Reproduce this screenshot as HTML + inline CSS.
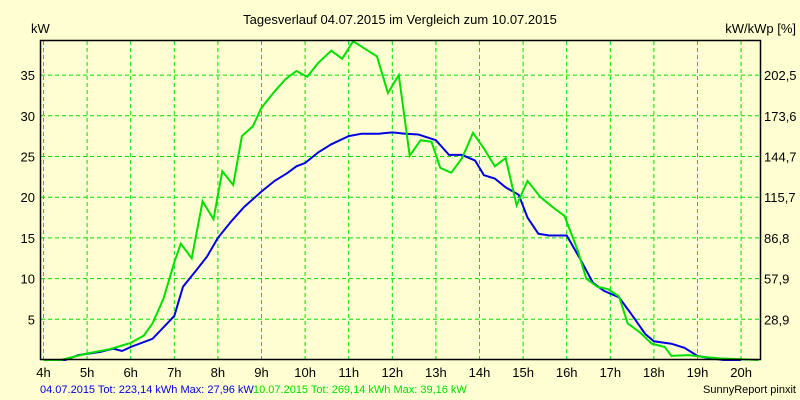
<!DOCTYPE html>
<html><head><meta charset="utf-8"><style>
body{margin:0;background:#ffffd2;}
svg{display:block;font-family:"Liberation Sans",sans-serif;}
</style></head><body>
<svg id="chart" width="800" height="400" viewBox="0 0 800 400">
<rect x="0" y="0" width="800" height="400" fill="#ffffd2"/>
<text x="400" y="24" font-size="13" text-anchor="middle" fill="#000">Tagesverlauf 04.07.2015 im Vergleich zum 10.07.2015</text>
<text x="31" y="33" font-size="13" fill="#000">kW</text>
<text x="796" y="33" font-size="13" text-anchor="end" fill="#000">kW/kWp [%]</text>
<g id="grid"></g>
<g id="ticks"></g>
<g id="series"></g>
<rect x="40.5" y="40.5" width="720" height="319" fill="none" stroke="#000" stroke-width="1.5"/>
<text x="40" y="393" font-size="11" fill="#0000e0">04.07.2015 Tot: 223,14 kWh Max: 27,96 kW</text>
<text x="253" y="393" font-size="11" fill="#00e000">10.07.2015 Tot: 269,14 kWh Max: 39,16 kW</text>
<text x="796" y="393" font-size="11" text-anchor="end" fill="#000">SunnyReport pinxit</text>
</svg>
<script>
const hourTicks=[4,5,6,7,8,9,10,11,12,13,14,15,16,17,18,19,20];
const kwTicks=[5,10,15,20,25,30,35];
const pctLabels=["28,9","57,9","86,8","115,7","144,7","173,6","202,5"];
const blueT=[4,4.5,4.8,5.3,5.6,5.8,6,6.5,6.75,7,7.2,7.5,7.75,8,8.3,8.6,9,9.3,9.6,9.8,10,10.3,10.6,11,11.3,11.7,12,12.3,12.6,13,13.3,13.6,13.9,14.1,14.35,14.6,14.9,15.1,15.35,15.6,16,16.3,16.6,16.85,17.2,17.5,17.8,18,18.4,18.7,19,19.3,19.6,20];
const blueV=[0,0,0.6,1.0,1.4,1.1,1.6,2.6,4,5.4,9,11,12.7,15,17,18.8,20.7,22,23,23.8,24.2,25.5,26.5,27.5,27.8,27.8,27.96,27.8,27.7,27,25.2,25.2,24.5,22.7,22.3,21.2,20.3,17.5,15.5,15.3,15.3,12.5,9.5,8.5,7.7,5.5,3.2,2.3,2,1.5,0.5,0.2,0,0];
const greenT=[4,4.4,5,5.5,6,6.3,6.5,6.75,7,7.15,7.4,7.65,7.9,8.1,8.35,8.55,8.8,9,9.3,9.55,9.8,10.05,10.3,10.6,10.85,11.1,11.35,11.65,11.9,12.15,12.4,12.65,12.9,13.1,13.35,13.6,13.85,14.1,14.35,14.6,14.85,15.1,15.4,15.7,15.95,16.25,16.45,16.7,16.95,17.2,17.4,17.7,17.95,18.25,18.4,18.8,19.1,19.5,20.4];
const greenV=[0,0,0.8,1.3,2.1,3,4.5,7.5,12,14.3,12.5,19.5,17.3,23.2,21.5,27.5,28.7,31,33,34.5,35.5,34.8,36.5,38,37,39.16,38.3,37.3,32.8,35,25.1,27,26.8,23.6,23,24.8,27.9,26,23.8,24.8,19,22,20,18.7,17.7,13.5,10,9,8.7,7.8,4.5,3.3,2,1.6,0.5,0.6,0.4,0.2,0];
const NS="http://www.w3.org/2000/svg";
function xs(h){return 43.5+(h-4)*43.6;}
function ys(v){return 360-v*8.14;}
function mk(tag,attrs,parent){const e=document.createElementNS(NS,tag);for(const k in attrs)e.setAttribute(k,attrs[k]);parent.appendChild(e);return e;}
const grid=document.getElementById('grid'),ticks=document.getElementById('ticks'),series=document.getElementById('series');
hourTicks.forEach(h=>{
  const l=mk('line',{x1:xs(h),x2:xs(h),y1:41,y2:359,stroke:'#00e000','stroke-dasharray':'4,3'},grid);
  
  
  const t=mk('text',{x:xs(h),y:377,'font-size':13,'text-anchor':'middle',fill:'#000'},ticks);
  t.textContent=h+'h';
  
  
});
kwTicks.forEach((v,i)=>{
  const l=mk('line',{x1:41,x2:760,y1:ys(v),y2:ys(v),stroke:'#00e000','stroke-dasharray':'4,3'},grid);
  
  
  const t=mk('text',{x:35,y:ys(v)+5,'font-size':13,'text-anchor':'end',fill:'#000'},ticks);
  t.textContent=v;
  
  
  const r=mk('text',{x:764,y:ys(v)+5,'font-size':13,fill:'#000'},ticks);
  r.textContent=pctLabels[i];
  
  
});
function line(T,V,color){return T.map((t,i)=>xs(t).toFixed(1)+','+ys(V[i]).toFixed(1)).join(' ');}
const b=mk('polyline',{points:line(blueT,blueV),fill:'none',stroke:'#0000e0','stroke-width':2},series);


const g=mk('polyline',{points:line(greenT,greenV),fill:'none',stroke:'#00e000','stroke-width':2},series);


</script>
</body></html>
